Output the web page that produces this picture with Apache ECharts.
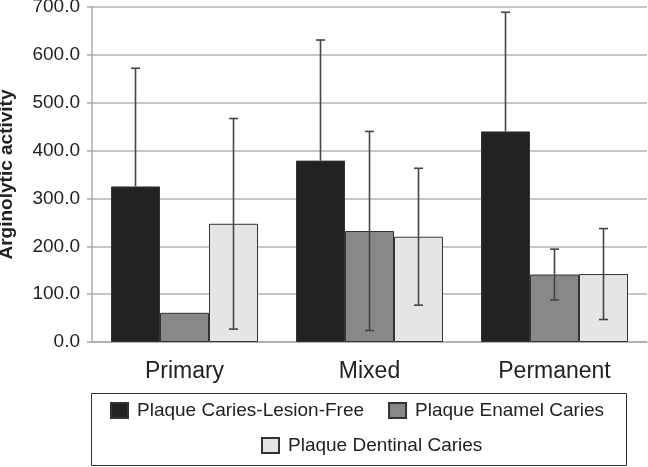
<!DOCTYPE html>
<html>
<head>
<meta charset="utf-8">
<script src="https://cdn.jsdelivr.net/npm/echarts@6/dist/echarts.min.js"></script>
<style>
  html, body { margin: 0; padding: 0; background: #fff; }
  #chart { width: 648px; height: 467px; }
</style>
</head>
<body>
<div id="chart"></div>
<script>
// data
var categories = ['Primary', 'Mixed', 'Permanent'];
var seriesNames = ['Plaque Caries-Lesion-Free', 'Plaque Enamel Caries', 'Plaque Dentinal Caries'];
var lesionFree = [325, 379, 440];
var enamel = [61, 232, 141];
var dentinal = [247, 220, 142];
// error bar half widths (null = not drawn)
var lesionFreeErr = [247, 252, 249];
var enamelErr = [null, 208, 53];
var dentinalErr = [220, 143, 95];
var yTicks = [0, 100, 200, 300, 400, 500, 600, 700];

var barColors = ['#222222', '#888888', '#e5e5e5'];
var barW = 49;
var font = 'Liberation Sans, Arial, sans-serif';

var chart = echarts.init(document.getElementById('chart'));

var values = [lesionFree, enamel, dentinal];
var errs = [lesionFreeErr, enamelErr, dentinalErr];

var series = [];
values.forEach(function (vals, s) {
  series.push({
    name: seriesNames[s],
    type: 'bar',
    barWidth: barW,
    barGap: '0%',
    itemStyle: { color: barColors[s], borderColor: '#333', borderWidth: 1 },
    data: vals
  });
});

// error bars as a custom series: [category, low, mean, high, series]
var errData = [];
values.forEach(function (vals, s) {
  vals.forEach(function (v, i) {
    if (errs[s][i] != null) errData.push([i, v - errs[s][i], v, v + errs[s][i], s]);
  });
});
series.push({
  type: 'custom',
  z: 10,
  silent: true,
  data: errData,
  encode: { x: 0, y: [1, 3] },
  renderItem: function (params, api) {
    var s = api.value(4);
    var lo = api.coord([api.value(0), api.value(1)]);
    var mid = api.coord([api.value(0), api.value(2)]);
    var hi = api.coord([api.value(0), api.value(3)]);
    var x = lo[0] + (s - 1) * barW;
    var cap = 4.5;
    var st = { stroke: '#444', lineWidth: 1.6 };
    var kids = [
      { type: 'line', shape: { x1: x, y1: mid[1], x2: x, y2: hi[1] }, style: st },
      { type: 'line', shape: { x1: x - cap, y1: hi[1], x2: x + cap, y2: hi[1] }, style: st }
    ];
    // lower half disappears inside the black bars
    if (s !== 0) {
      kids.push({ type: 'line', shape: { x1: x, y1: lo[1], x2: x, y2: mid[1] }, style: st });
      kids.push({ type: 'line', shape: { x1: x - cap, y1: lo[1], x2: x + cap, y2: lo[1] }, style: st });
    }
    return { type: 'group', children: kids };
  }
});

var legendText = { color: '#222', fontSize: 19, fontFamily: font, padding: [0, 0, 0, 4] };

var option = {
  animation: false,
  textStyle: { fontFamily: font },
  grid: { left: 92, right: 1, top: 7, bottom: 125, outerBoundsMode: 'none' },
  legend: [{
    data: [seriesNames[0], seriesNames[1]],
    icon: 'rect',
    left: 110,
    top: 401,
    padding: 0,
    itemWidth: 17,
    itemHeight: 15,
    itemGap: 24,
    textStyle: legendText
  }, {
    data: [seriesNames[2]],
    icon: 'rect',
    left: 261,
    top: 436,
    padding: 0,
    itemWidth: 17,
    itemHeight: 15,
    textStyle: legendText
  }],
  graphic: [{
    type: 'rect',
    shape: { x: 91.5, y: 393.5, width: 535, height: 72 },
    style: { fill: 'none', stroke: '#333', lineWidth: 1 }
  }],
  xAxis: {
    type: 'category',
    data: categories,
    axisLine: { lineStyle: { color: '#aaa', width: 1.5 } },
    axisTick: { length: 6, lineStyle: { color: '#aaa', width: 1.5 } },
    axisLabel: { color: '#222', fontSize: 23, margin: 18 }
  },
  yAxis: {
    type: 'value',
    min: yTicks[0],
    max: yTicks[yTicks.length - 1],
    interval: yTicks[1] - yTicks[0],
    name: 'Arginolytic activity',
    nameLocation: 'middle',
    nameGap: 76,
    nameTextStyle: { color: '#222', fontSize: 19, fontWeight: 'bold' },
    axisLine: { show: true, lineStyle: { color: '#aaa', width: 1.5 } },
    axisTick: { show: true, length: 5, lineStyle: { color: '#aaa', width: 1.5 } },
    axisLabel: {
      color: '#222',
      fontSize: 19,
      margin: 12,
      formatter: function (v) { return v.toFixed(1); }
    },
    splitLine: { lineStyle: { color: '#b3b3b3', width: 1.5 } }
  },
  series: series
};

chart.setOption(option);
</script>
</body>
</html>
